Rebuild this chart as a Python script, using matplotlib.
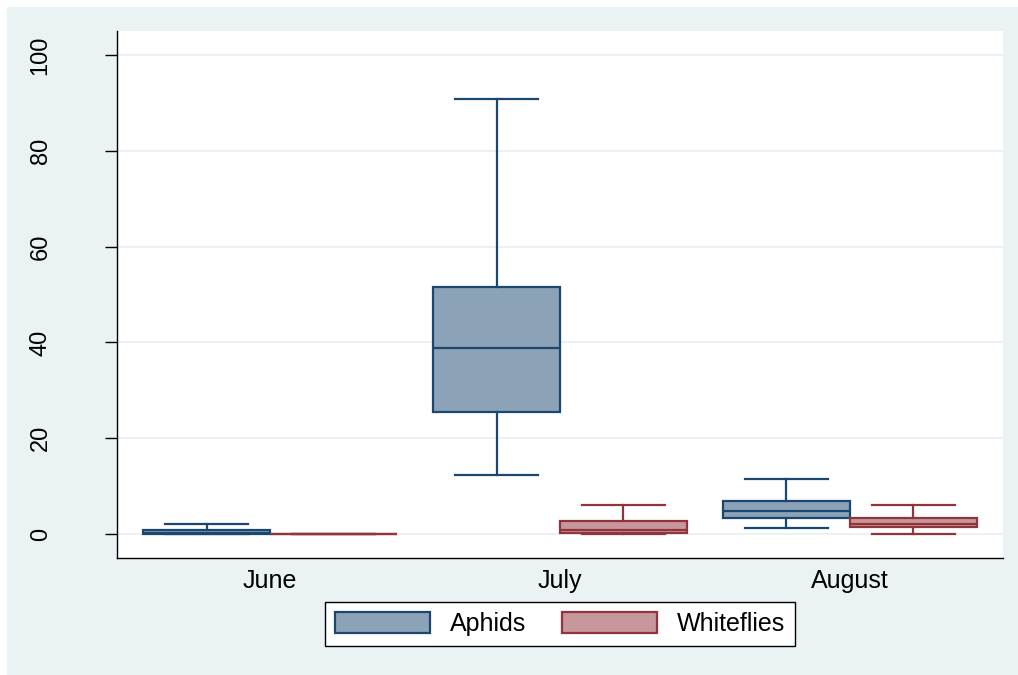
import matplotlib.pyplot as plt
from matplotlib.patches import Rectangle, Patch

plt.rcParams['font.family'] = ['Liberation Sans', 'DejaVu Sans']

months = ['June', 'July', 'August']
series = ['Aphids', 'Whiteflies']

# box statistics: whisker low, q1, median, q3, whisker high
aphids_lo = [0.0, 12.3, 1.2]
aphids_q1 = [0.0, 25.4, 3.3]
aphids_med = [0.3, 38.9, 4.8]
aphids_q3 = [0.9, 51.6, 6.9]
aphids_hi = [2.0, 90.8, 11.5]

white_lo = [0.0, 0.0, 0.0]
white_q1 = [0.0, 0.3, 1.4]
white_med = [0.0, 0.8, 2.2]
white_q3 = [0.0, 2.7, 3.3]
white_hi = [0.0, 6.0, 6.0]

navy = '#1a476f'
navy_fill = '#8ca2b7'
maroon = '#90353b'
maroon_fill = '#c8979b'
bg = '#eaf2f3'

fig = plt.figure(figsize=(10.18, 6.75), dpi=100, facecolor='white')
fig.patches.append(Rectangle((7 / 1018, 0), 1, 1 - 7 / 675, transform=fig.transFigure,
                             facecolor=bg, edgecolor='none', zorder=-10))
ax = fig.add_axes([117 / 1018, 1 - 558 / 675, 886 / 1018, 527 / 675])
ax.set_facecolor('white')

width = 0.438
offset = width / 2


def make_stats(lo, q1, med, q3, hi):
    return [dict(whislo=a, q1=b, med=c, q3=d, whishi=e, fliers=[])
            for a, b, c, d, e in zip(lo, q1, med, q3, hi)]


groups = [
    (make_stats(aphids_lo, aphids_q1, aphids_med, aphids_q3, aphids_hi), -offset, navy, navy_fill),
    (make_stats(white_lo, white_q1, white_med, white_q3, white_hi), offset, maroon, maroon_fill),
]

for stats, off, line_col, fill_col in groups:
    pos = [i + 1 + off for i in range(len(months))]
    ax.bxp(stats, positions=pos, widths=width, patch_artist=True, showfliers=False,
           manage_ticks=False,
           boxprops=dict(facecolor=fill_col, edgecolor=line_col, linewidth=1.6),
           medianprops=dict(color=line_col, linewidth=1.6),
           whiskerprops=dict(color=line_col, linewidth=1.6),
           capprops=dict(color=line_col, linewidth=1.6),
           capwidths=width * 0.66, zorder=3)

ax.set_xlim(0.472, 3.528)
ax.set_ylim(-5, 105)
ax.set_yticks([0, 20, 40, 60, 80, 100])
ax.set_xticks([1, 2, 3])
ax.set_xticklabels(months, fontsize=18)
ax.tick_params(axis='x', length=0, pad=8)
ax.tick_params(axis='y', length=9, width=1, labelsize=17, pad=38)
for lab in ax.get_yticklabels():
    lab.set_rotation(90)
    lab.set_va('center')
ax.grid(axis='y', color=bg, linewidth=1.5, zorder=0)
ax.set_axisbelow(True)
for s in ['top', 'right']:
    ax.spines[s].set_visible(False)
for s in ['left', 'bottom']:
    ax.spines[s].set_linewidth(1.0)
    ax.spines[s].set_color('black')

handles = [Patch(facecolor=navy_fill, edgecolor=navy, linewidth=1.6, label=series[0]),
           Patch(facecolor=maroon_fill, edgecolor=maroon, linewidth=1.6, label=series[1])]
leg = fig.legend(handles=handles, loc='center', bbox_to_anchor=(560 / 1018, 1 - 624 / 675),
                 ncol=2, fontsize=18, frameon=True, fancybox=False, handlelength=3.8,
                 handleheight=0.9, columnspacing=1.4, handletextpad=0.8, borderpad=0.4,
                 framealpha=1)
leg.get_frame().set_edgecolor('black')
leg.get_frame().set_linewidth(1.0)

fig.savefig('out.png', dpi=100, facecolor=fig.get_facecolor())
